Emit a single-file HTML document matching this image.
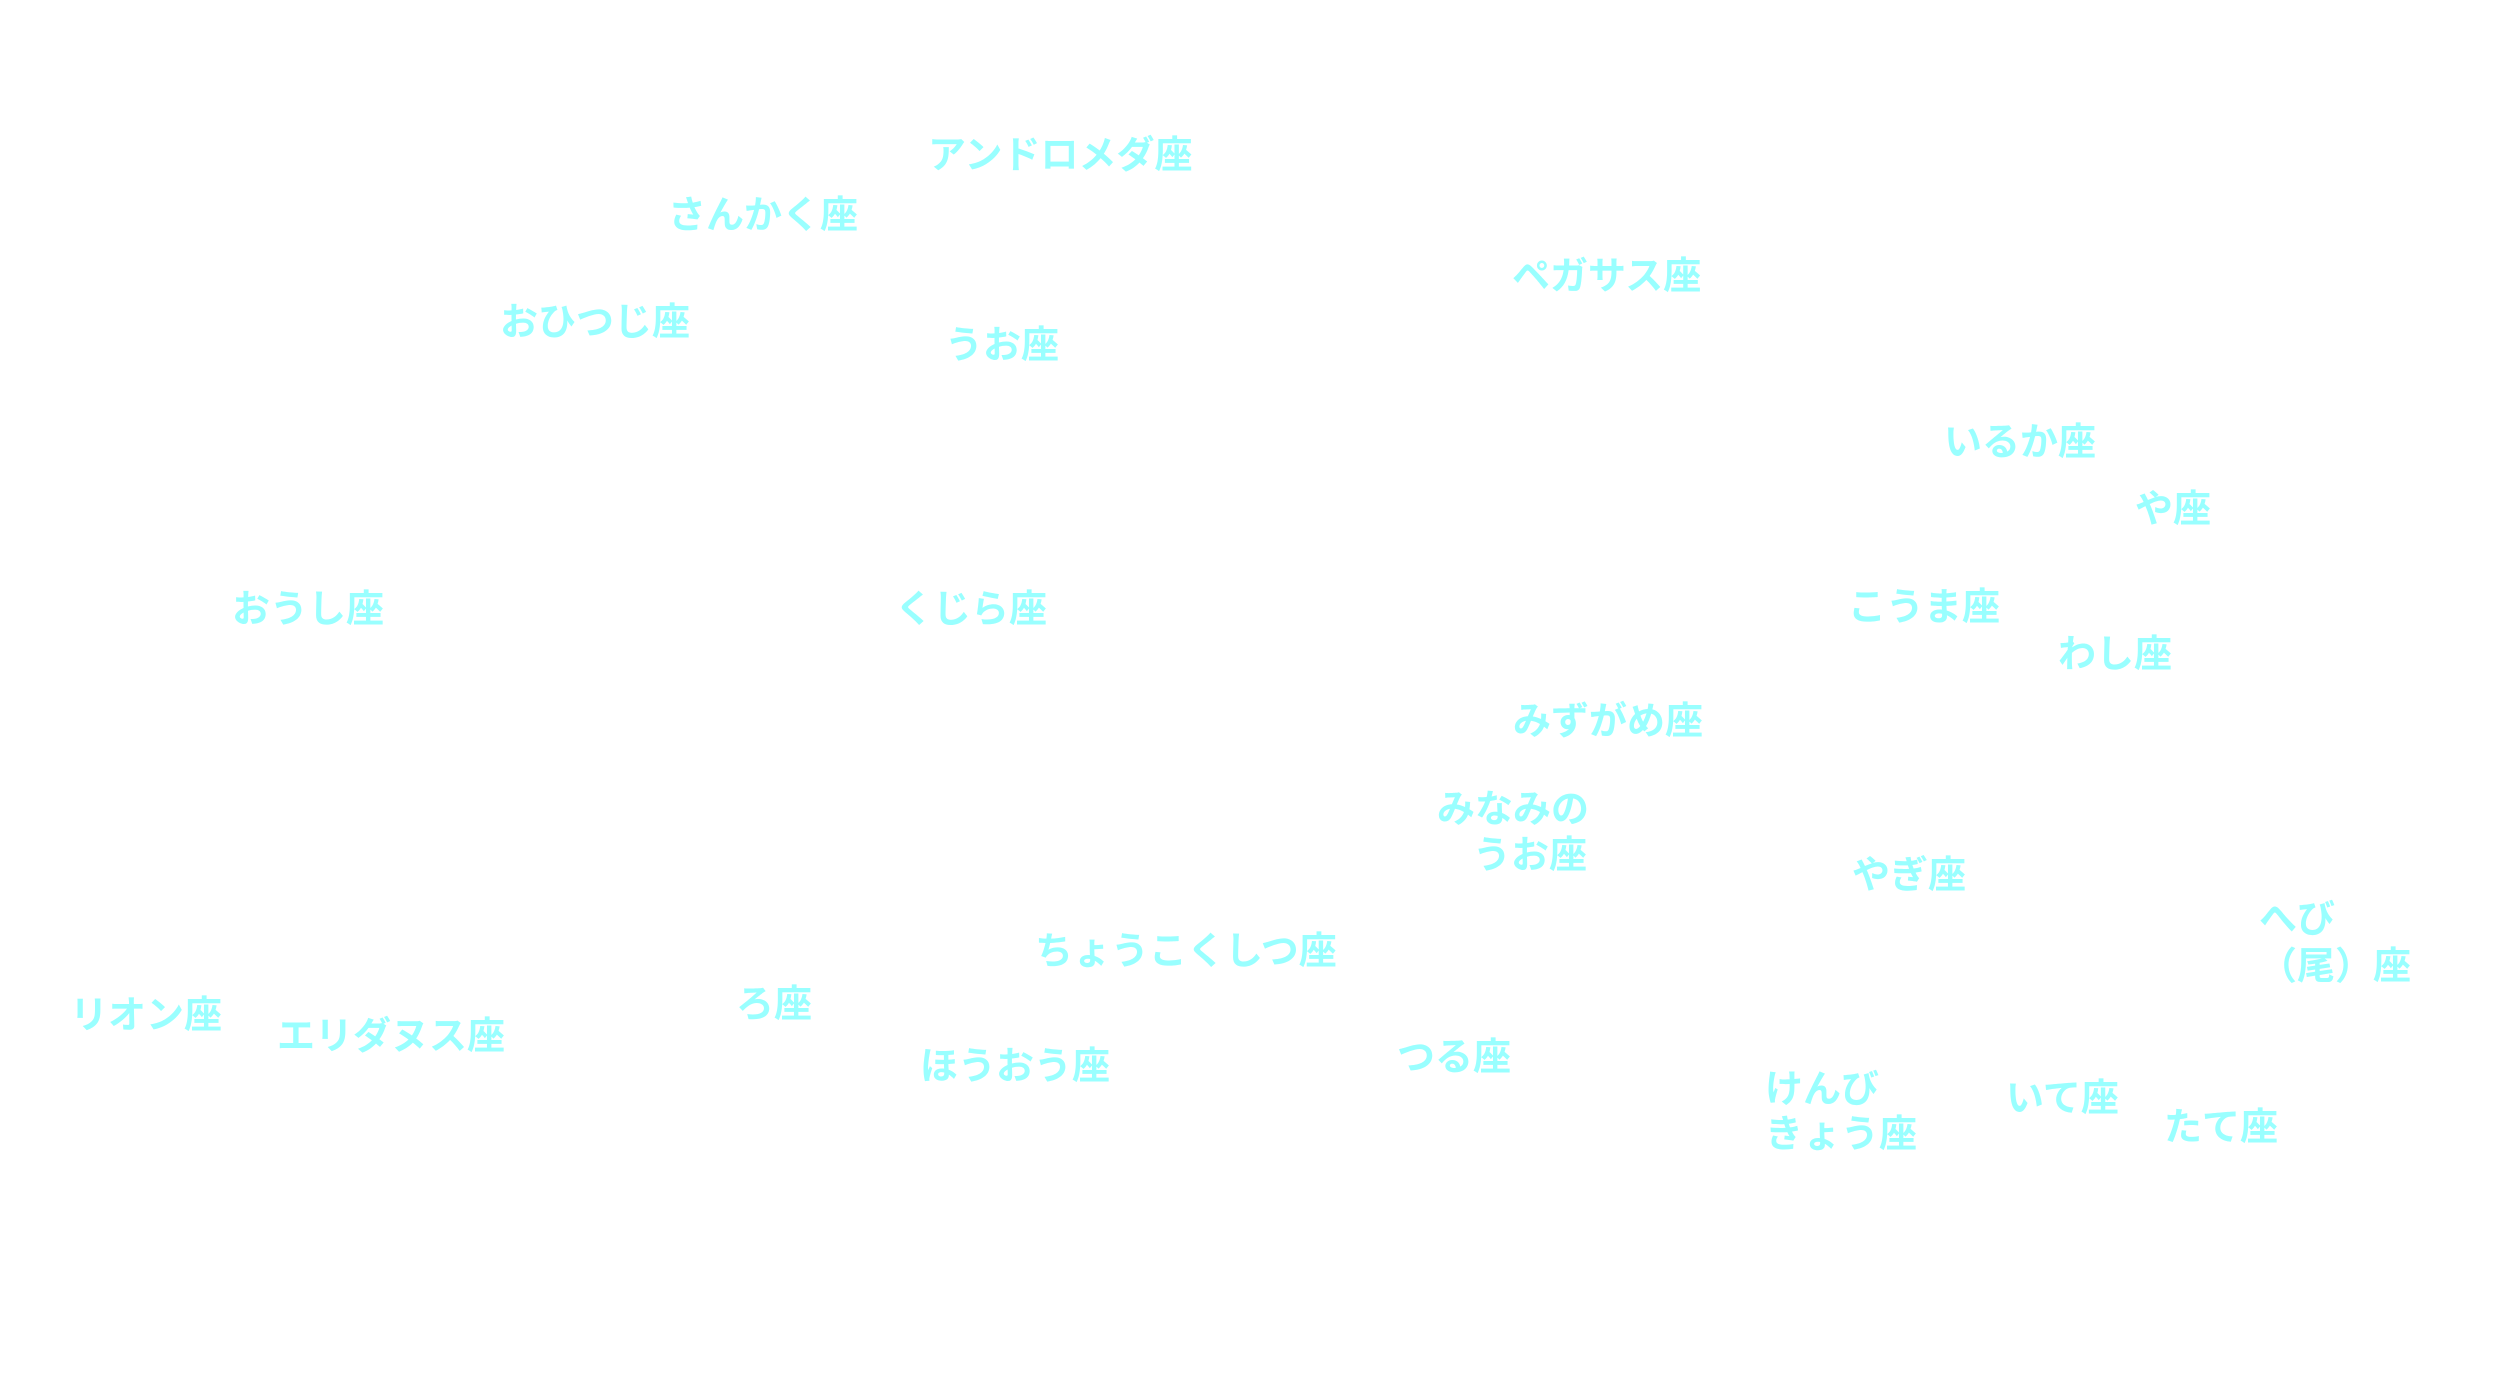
<!DOCTYPE html>
<html><head><meta charset="utf-8"><style>
html,body{margin:0;padding:0;background:#fff;}
body{width:2500px;height:1400px;position:relative;overflow:hidden;}
.t{position:absolute;font-family:"Liberation Sans","Noto Sans CJK JP",sans-serif;font-weight:bold;font-size:38px;line-height:1;color:#99ffff;white-space:nowrap;}
</style></head><body>
<div class="t" style="left:928px;top:137px">アンドロメダ座</div>
<div class="t" style="left:668px;top:197px">さんかく座</div>
<div class="t" style="left:1512px;top:258px">ペガサス座</div>
<div class="t" style="left:500px;top:304px">おひつじ座</div>
<div class="t" style="left:945px;top:327px">うお座</div>
<div class="t" style="left:1944px;top:424px">いるか座</div>
<div class="t" style="left:2135px;top:491px">や座</div>
<div class="t" style="left:232px;top:591px">おうし座</div>
<div class="t" style="left:895px;top:591px">くじら座</div>
<div class="t" style="left:1848px;top:589px">こうま座</div>
<div class="t" style="left:2058px;top:636px">わし座</div>
<div class="t" style="left:1513px;top:703px">みずがめ座</div>
<div class="t" style="left:1437px;top:791px">みなみの</div>
<div class="t" style="left:1473px;top:837px">うお座</div>
<div class="t" style="left:1852px;top:857px">やぎ座</div>
<div class="t" style="left:2259px;top:901px">へび</div>
<div class="t" style="left:2259px;top:948px">（尾）座</div>
<div class="t" style="left:1035px;top:933px">ちょうこくしつ座</div>
<div class="t" style="left:70px;top:997px">リオン座</div>
<div class="t" style="left:277px;top:1018px">エリダヌス座</div>
<div class="t" style="left:736px;top:986px">ろ座</div>
<div class="t" style="left:920px;top:1048px">ほうおう座</div>
<div class="t" style="left:1397px;top:1039px">つる座</div>
<div class="t" style="left:1765px;top:1071px">けんび</div>
<div class="t" style="left:1765px;top:1116px">きょう座</div>
<div class="t" style="left:2006px;top:1080px">いて座</div>
<div class="t" style="left:2164px;top:1109px">たて座</div>
</body></html>
